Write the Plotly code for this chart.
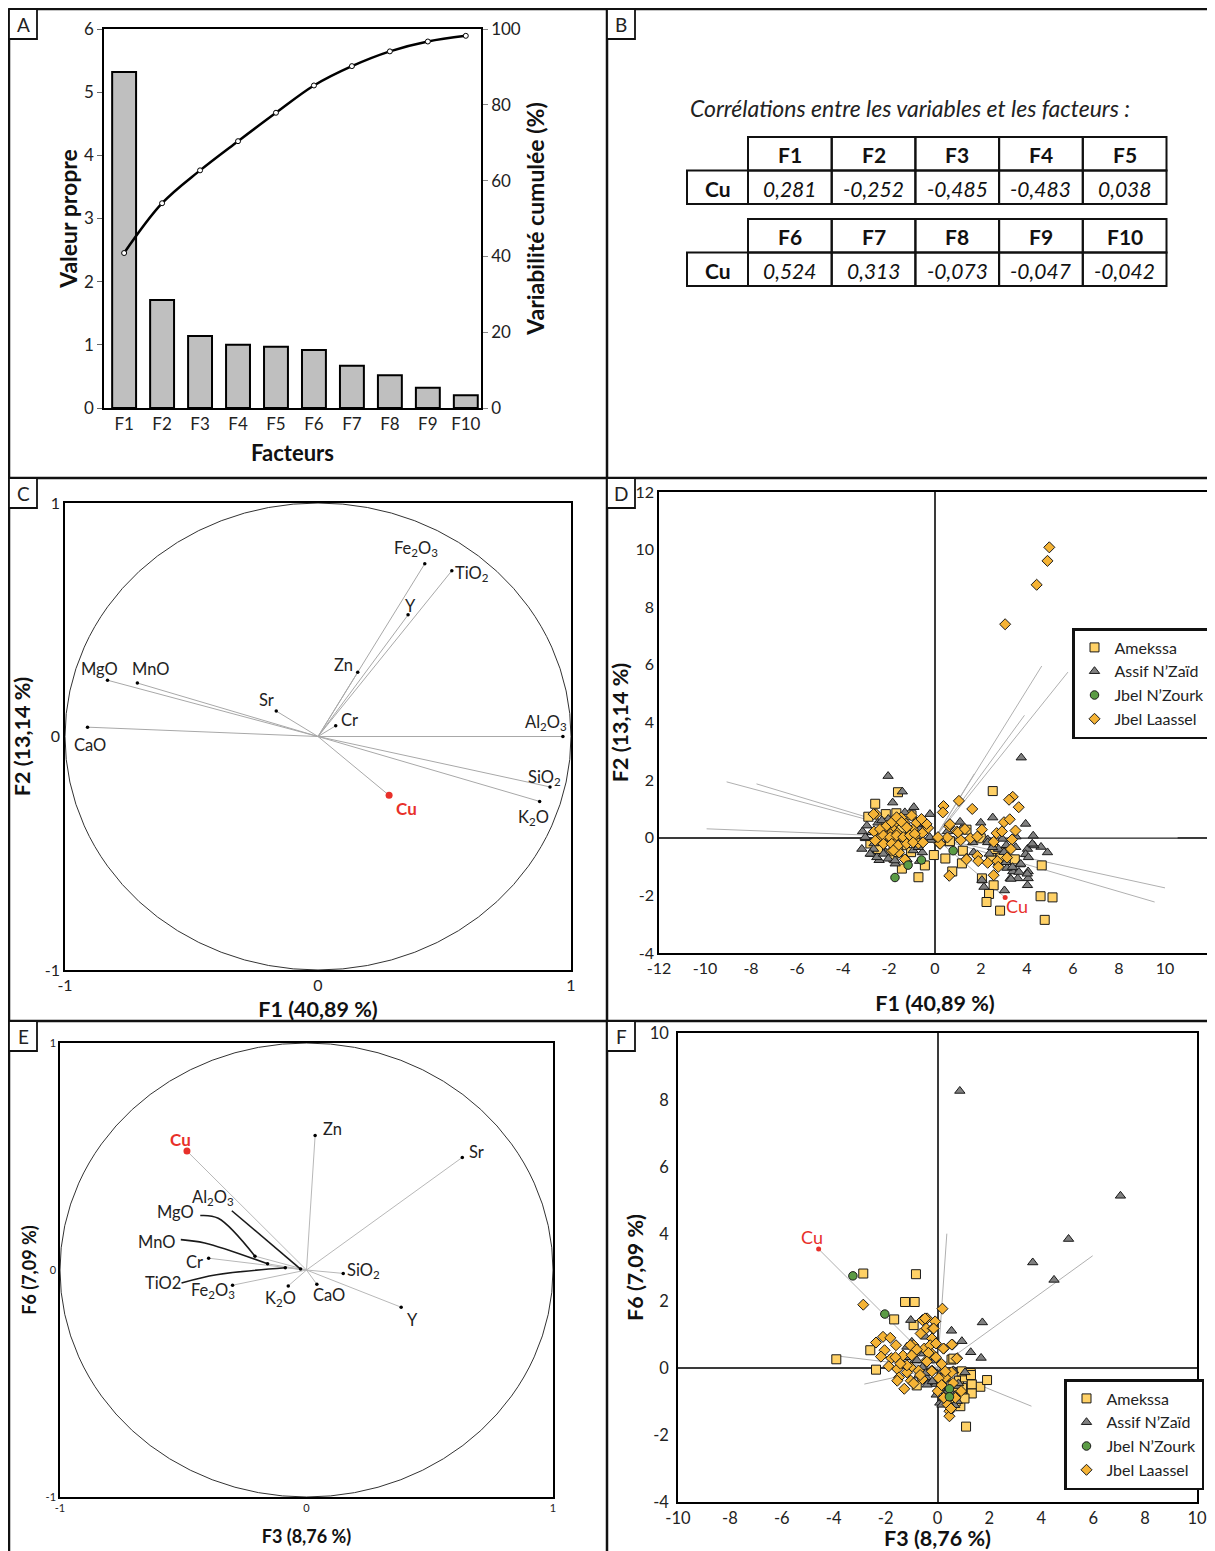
import plotly.graph_objects as go

# ---------------- Panel A data ----------------
factors = ["F1", "F2", "F3", "F4", "F5", "F6", "F7", "F8", "F9", "F10"]
eigenvalues = [5.32, 1.71, 1.14, 1.00, 0.97, 0.92, 0.67, 0.52, 0.32, 0.20]
cumulative = [40.89, 54.03, 62.7, 70.4, 77.9, 85.1, 90.2, 94.1, 96.7, 98.2]

# ---------------- Panel B data ----------------
table_cols_1 = ["F1", "F2", "F3", "F4", "F5"]
table_vals_1 = ["0,281", "-0,252", "-0,485", "-0,483", "0,038"]
table_cols_2 = ["F6", "F7", "F8", "F9", "F10"]
table_vals_2 = ["0,524", "0,313", "-0,073", "-0,047", "-0,042"]

# ---------------- Panel C data (F1/F2 correlation circle) ----------------
c_labels = ["Fe<sub>2</sub>O<sub>3</sub>", "TiO<sub>2</sub>", "Y", "Zn", "Cr", "Sr", "MgO", "MnO",
            "CaO", "Al<sub>2</sub>O<sub>3</sub>", "SiO<sub>2</sub>", "K<sub>2</sub>O"]
c_f1 = [0.422, 0.529, 0.356, 0.157, 0.070, -0.165, -0.832, -0.714, -0.911, 0.968, 0.917, 0.876]
c_f2 = [0.740, 0.710, 0.521, 0.275, 0.046, 0.109, 0.241, 0.229, 0.040, 0.000, -0.216, -0.278]
c_lab_x = [0.387, 0.610, 0.367, 0.101, 0.125, -0.202, -0.862, -0.664, -0.902, 0.902, 0.894, 0.853]
c_lab_y = [0.804, 0.699, 0.558, 0.308, 0.071, 0.156, 0.290, 0.290, -0.035, 0.060, -0.175, -0.345]
cu_f1, cu_f2, cu_f3, cu_f6 = 0.281, -0.252, -0.485, 0.524

# ---------------- Panel D data (F1/F2 scores) ----------------
dA_x = [-1.61, -2.60, -2.90, -2.14, -1.68, -1.02, -0.67, -1.81, -1.44, -0.72, -0.44, -0.05, 0.45, 0.75, 1.21,
        1.17, 0.62, 1.37, 1.99, 2.51, 2.43, 2.55, 2.35, 2.24, 2.83, 3.02, 3.47, 4.64, 4.59, 5.11, 4.77, 2.04,
        2.55, 2.88, -2.81, -2.48, -1.98, -1.47, -1.31, -2.48, -2.14, -1.60, -1.04, 0.65]
dA_y = [1.58, 1.18, 0.73, 0.82, 0.85, 0.78, 0.46, -0.69, -1.07, -1.37, -0.96, -0.60, -0.72, -1.17, -0.45,
        -0.89, -0.12, 0.28, -0.02, 1.62, -0.69, -1.65, -1.95, -2.23, -2.53, -0.51, -0.75, -0.96, -2.03, -2.07,
        -2.85, -1.41, -0.39, -0.69, -0.20, 0.16, -0.08, 0.28, -0.26, -0.39, 0.52, -0.50, -0.50, -0.12]
dB_x = [-2.04, -1.42, -1.84, -0.92, -0.22, -3.15, -3.02, -3.18, -2.76, -2.43, -1.73, -1.22, -0.67, -0.17, 1.09,
        1.99, 2.51, 3.75, 3.94, 4.27, 4.22, 4.61, 4.89, 4.02, 3.94, 4.05, 4.05, 4.02, 3.69, 3.38, 3.27, 3.60,
        3.02, 2.76, 3.13, 2.04, 2.13, 2.38, 2.76, 3.10, 3.52, 1.37, 1.68, 2.29, -2.48, -2.31, -2.65, -1.64,
        -1.14, -0.80, -1.81, -2.14, -0.55, 0.54,
        -2.96, -2.74, -3.03, -2.67, -2.82, -2.53, -2.24, -2.03, -1.74, -0.95, -0.73, -0.66, -0.80, -2.03, -2.31,
        -1.31, -0.23, 1.64, 2.29, 2.93, 3.00, 3.51, 4.30, 4.06, 4.23, 3.08, 3.37, 3.73, 3.65, 4.01, 3.30, 2.50,
        2.36, 1.14]
dB_y = [2.14, 1.60, 1.22, 1.06, 0.82, 0.22, -0.02, -0.39, -0.57, -0.78, -0.90, -0.75, -0.81, -0.08, 0.55,
        0.52, 0.70, 2.78, 0.48, 0.07, -0.23, -0.32, -0.51, -0.39, -0.57, -1.17, -1.41, -1.65, -0.93, -1.17,
        -1.41, -1.41, -1.83, -0.87, -1.05, -1.47, -1.71, -0.14, -0.39, -0.26, 0.04, -0.69, -0.51, -0.06, 0.52,
        -0.08, -0.20, -0.20, 0.16, 0.40, 0.04, -0.51, -0.51, 0.22,
        0.42, 0.19, 0.02, -0.39, -0.56, -0.68, -0.56, -0.73, -0.79, -0.44, -0.33, 0.30, 0.48, 0.65, 0.60,
        0.88, 0.02, -0.16, -0.16, -0.04, -0.50, -0.33, -0.27, -0.68, -0.21, -0.85, -1.02, -0.91, -1.19, -1.25,
        -1.43, -0.33, -0.56, 0.30]
dC_x = [-1.74, -1.17, -0.59, 0.79]
dC_y = [-1.38, -0.95, -0.77, -0.45]
dD_x = [4.97, 4.89, 4.42, 3.05, 1.04, 0.37, 0.34, 1.62, 3.38, 3.22, 3.64, 3.00, 3.25, 3.50, 2.68, 2.91, 3.35,
        3.30, 2.71, 2.75, 1.84, 1.88, 1.37, 1.54, 0.95, 1.12, 0.54, 0.62, 0.62, -0.47, -0.30, -0.80, -0.97,
        -1.31, -1.47, -1.73, -1.81, -1.98, -2.14, -2.31, -2.56, -2.48, -2.23, -1.89, -1.56, -1.31, -1.14,
        -0.89, -0.72, -1.47, -1.73, -2.06, -2.65, -1.64, -1.22, -0.55, 0.12, 0.20, 2.04, 2.55, 3.13, 1.84,
        2.29, 0.65, 1.00, 1.30, 0.22, 2.55,
        -2.39, -2.10, -1.88, -1.67, -1.45, -1.23, -1.02, -2.24, -1.95, -1.67, -1.38, -1.09, -0.88, -2.60, -2.24,
        -1.88, -1.60, -1.23, -1.81, -0.95, -0.52, -0.37, 0.13, -0.59, -2.67]
dD_y = [10.08, 9.61, 8.78, 7.41, 1.28, 1.10, 0.88, 1.00, 1.42, 1.32, 1.06, 0.54, 0.64, 0.25, 0.16, 0.22,
        -0.06, -0.39, -0.81, -1.01, -0.63, -0.81, -0.75, -0.02, 0.22, -0.08, 0.01, -1.32, 0.40, 0.52, 0.34,
        0.52, 0.28, 0.52, 0.70, 0.52, 0.28, 0.16, 0.04, 0.28, 0.82, -0.08, -0.20, -0.45, -0.51, -0.75, -0.08,
        0.04, -0.20, 0.04, -0.20, 0.40, 0.22, 0.16, 0.37, 0.16, -0.02, -0.20, 0.28, -0.14, -0.69, 0.04, -0.87,
        0.47, 0.19, 0.30, -0.21, -1.30,
        0.30, 0.42, 0.54, 0.71, 0.54, 0.36, 0.77, 0.08, 0.02, 0.08, 0.02, 0.08, 0.13, -0.10, -0.21,
        -0.21, -0.27, -0.21, -0.44, -0.16, -0.16, 0.48, 0.02, 0.65, 0.82]
# variable vectors drawn in panel D (same order as c_labels)
d_vec_x = [4.64, 5.78, 3.89, 1.71, 0.76, -1.80, -9.06, -7.76, -9.93, 10.55, 10.00, 9.55]
d_vec_y = [5.96, 5.75, 4.25, 2.22, 0.37, 0.88, 1.94, 1.87, 0.31, 0.00, -1.74, -2.23]
d_cu = [3.05, -2.07]

# ---------------- Panel E data (F3/F6 correlation circle) ----------------
e_labels = ["Zn", "Sr", "Al<sub>2</sub>O<sub>3</sub>", "MgO", "MnO", "Cr", "TiO2",
            "Fe<sub>2</sub>O<sub>3</sub>", "K<sub>2</sub>O", "CaO", "SiO<sub>2</sub>", "Y"]
e_f3 = [0.035, 0.632, -0.024, -0.209, -0.158, -0.397, -0.086, -0.300, -0.074, 0.042, 0.149, 0.384]
e_f6 = [0.593, 0.496, 0.004, 0.061, 0.027, 0.052, 0.010, -0.067, -0.070, -0.063, -0.015, -0.164]
e_lab_x = [0.105, 0.690, -0.380, -0.530, -0.609, -0.455, -0.582, -0.381, -0.104, 0.093, 0.232, 0.431]
e_lab_y = [0.620, 0.519, 0.320, 0.255, 0.124, 0.037, -0.058, -0.092, -0.125, -0.110, -0.003, -0.219]
# label leader lines (Al2O3, MgO, MnO, TiO2)
e_lead_x = [[-0.303, -0.024], [-0.431, -0.358, -0.209], [-0.510, -0.413, -0.158], [-0.507, -0.365, -0.086]]
e_lead_y = [[0.261, 0.004], [0.240, 0.228, 0.061], [0.134, 0.119, 0.027], [-0.057, -0.021, 0.010]]

# ---------------- Panel F data (F3/F6 scores) ----------------
fA_x = [-3.90, -2.86, -2.59, -2.37, -1.67, -1.25, -0.88, -0.83, -0.92, 0.54, 1.28, 1.31, 1.65, 1.91, 1.10,
        0.88, 1.01, 1.28, -0.80, 0.61, 0.83, 1.06, 0.70, 0.95, 0.61, 1.32, 1.29, 1.32, 1.04, 0.93]
fA_y = [0.26, 2.82, 0.53, -0.05, 1.45, 1.97, 1.97, 2.80, 1.28, 0.25, -0.15, -0.48, -0.56, -0.36, -1.75,
        -1.14, -0.84, -0.74, -0.52, -0.64, -0.38, -0.28, -1.00, -0.60, 0.28, -0.49, -0.21, -0.76, -0.91, -0.10]
fB_x = [0.86, 7.05, 5.05, 3.67, 4.49, 1.73, 0.54, 0.94, 1.28, 1.68, -1.03, -0.46, -1.18, -1.10, -1.33, -0.73,
        -0.28, 0.09, 0.31, 0.76, 1.06, 0.61, 0.16, -0.13, -0.58, -0.88, 0.24, 0.76, 0.46, -0.06, -0.43, 0.10,
        0.35, 0.55, -0.40, 0.17, 0.36, 0.61, 0.81, 0.68, 0.23, 0.10, 0.66, 0.17, -0.20, -0.45, -0.05, -0.99,
        -0.79, -0.54]
fB_y = [8.27, 5.14, 3.85, 3.15, 2.63, 1.36, 1.11, 0.80, 0.47, 0.30, 1.43, 0.93, 0.63, 0.32, 0.12, -0.23,
        -0.43, -1.04, -0.69, -0.99, -0.13, -0.08, -0.28, 0.22, 0.02, 0.22, -0.54, -0.54, -0.89, -0.48, -0.28,
        -0.70, -0.35, -0.75, -0.50, -0.10, -0.31, -0.07, -0.46, -0.81, -0.91, -0.61, -1.11, -1.10, -0.40,
        -0.15, -0.80, 0.78, 0.23, 0.43]
fC_x = [-3.26, -2.03, 0.46, 0.46]
fC_y = [2.75, 1.61, -0.62, -0.86]
fD_x = [-2.86, 0.19, -2.37, -2.10, -1.82, -1.60, -2.04, -2.18, -1.78, -1.88, -1.55, -1.48, -1.55, -1.28, -1.03,
        -0.58, -0.40, -0.43, -0.18, -0.65, -0.21, -0.92, -0.88, -0.51, -0.28, -0.06, -0.21, 0.24, 0.57, 0.76,
        0.16, -0.06, -0.43, -0.73, -1.03, -1.18, -0.58, -0.21, 0.16, 0.31, 0.39, 0.46, 0.46, 0.69, 0.91, 0.54,
        0.01, 0.24, -1.33, -1.62, 0.05, 0.30, -0.35, 0.60, 0.55, 0.23, 0.74, 0.52, 0.16, -0.22, -0.41, -0.09,
        -0.15, -0.48, -1.18, -0.99, -1.05, -0.67, -0.92, -1.43, -0.80]
fD_y = [1.89, 1.77, 0.76, 0.93, 0.90, 0.68, 0.53, 0.34, 0.29, 0.05, -0.03, -0.28, -0.38, -0.62, -0.38, 1.43,
        1.48, 1.18, 1.18, 1.03, 0.88, 0.68, 0.47, 0.58, 0.68, 0.73, 0.42, 0.58, 0.70, 0.29, 0.12, 0.32, 0.22,
        -0.08, 0.02, -0.13, -0.33, -0.08, -0.48, -0.28, -1.09, -1.29, -1.44, -0.89, -0.69, -0.13, -0.69, -0.89,
        0.37, 0.32, -0.30, -0.10, 0.45, -0.45, 0.70, 0.58, 0.28, -1.21, -0.51, -0.10, 0.19, 1.39, 1.18, 1.48,
        0.08, 0.38, 0.68, -0.21, -0.46, 0.13, 0.55]
# variable vectors drawn in panel F (same order as e_labels)
f_vec_x = [0.36, 5.98, -0.23, -1.97, -1.49, -3.77, -0.81, -2.82, -0.70, 0.40, 1.41, 3.62]
f_vec_y = [4.01, 3.35, 0.03, 0.41, 0.18, 0.35, 0.07, -0.48, -0.47, -0.43, -0.10, -1.14]
f_cu = [-4.58, 3.55]

group_names = ["Amekssa", "Assif N’Zaïd", "Jbel N’Zourk", "Jbel Laassel"]

# ---------------- helpers / styles ----------------
# page pixels -> paper coordinates (the page body adds an 8 px margin)
W, H = 1207, 1543
def px(x): return (x - 8) / W
def py(y): return 1 - (y - 8) / H

FONT = "Lato"
RED = "#E8302A"
GRAY_LINE = "#B0B0B0"
SQ_COL = "#FFD166"
DI_COL = "#F5B335"
TRI_COL = "#808080"
GR_COL = "#5B9B45"

def vec_lines(xs, ys):
    lx, ly = [], []
    for x, y in zip(xs, ys):
        lx += [0, x, None]
        ly += [0, y, None]
    return lx, ly

fig = go.Figure()

# ---------------- Panel A ----------------
fig.add_trace(go.Bar(x=factors, y=eigenvalues, width=0.63, xaxis="x", yaxis="y", showlegend=False,
                     marker=dict(color="#BFBFBF", line=dict(color="black", width=2))))
fig.add_trace(go.Scatter(x=factors, y=cumulative, xaxis="x", yaxis="y2", mode="lines+markers", showlegend=False,
                         line=dict(color="black", width=2.5, shape="spline"),
                         marker=dict(symbol="circle", size=5, color="white", line=dict(color="black", width=1))))

# ---------------- Panel C ----------------
lx, ly = vec_lines(c_f1 + [cu_f1], c_f2 + [cu_f2])
fig.add_trace(go.Scatter(x=lx, y=ly, xaxis="x3", yaxis="y3", mode="lines", showlegend=False,
                         line=dict(color="#A8A8A8", width=1)))
fig.add_trace(go.Scatter(x=c_f1, y=c_f2, xaxis="x3", yaxis="y3", mode="markers", showlegend=False,
                         marker=dict(color="black", size=3.5)))
fig.add_trace(go.Scatter(x=[cu_f1], y=[cu_f2], xaxis="x3", yaxis="y3", mode="markers", showlegend=False,
                         marker=dict(color=RED, size=7)))

# ---------------- Panel D ----------------
lx, ly = vec_lines(d_vec_x + [d_cu[0]], d_vec_y + [d_cu[1]])
fig.add_trace(go.Scatter(x=lx, y=ly, xaxis="x4", yaxis="y4", mode="lines", showlegend=False,
                         line=dict(color=GRAY_LINE, width=1)))

def groups(legend, ax, ay, data):
    # (symbol, colour, size, legend rank, name index)
    specs = [("square", SQ_COL, 9, 1, 0), ("triangle-up", TRI_COL, 9, 2, 1),
             ("diamond", DI_COL, 8.5, 4, 3), ("circle", GR_COL, 8.5, 3, 2)]
    for k in [0, 1, 2, 3]:
        sym, col, size, rank, ni = specs[k]
        xs, ys = data[k]
        fig.add_trace(go.Scatter(x=xs, y=ys, xaxis=ax, yaxis=ay, mode="markers", name=group_names[ni],
                                 legend=legend, legendrank=rank,
                                 marker=dict(symbol=sym, color=col, size=size,
                                             line=dict(color="#1a1a1a", width=1))))

groups("legend", "x4", "y4", [(dA_x, dA_y), (dB_x, dB_y), (dD_x, dD_y), (dC_x, dC_y)])
fig.add_trace(go.Scatter(x=[d_cu[0]], y=[d_cu[1]], xaxis="x4", yaxis="y4", mode="markers", showlegend=False,
                         marker=dict(color=RED, size=5)))

# ---------------- Panel E ----------------
lx, ly = vec_lines(e_f3 + [cu_f3], e_f6 + [cu_f6])
fig.add_trace(go.Scatter(x=lx, y=ly, xaxis="x5", yaxis="y5", mode="lines", showlegend=False,
                         line=dict(color="#B8B8B8", width=1)))
for lxs, lys in zip(e_lead_x, e_lead_y):
    fig.add_trace(go.Scatter(x=lxs, y=lys, xaxis="x5", yaxis="y5", mode="lines", showlegend=False,
                             line=dict(color="#1a1a1a", width=1.6, shape="spline")))
fig.add_trace(go.Scatter(x=e_f3, y=e_f6, xaxis="x5", yaxis="y5", mode="markers", showlegend=False,
                         marker=dict(color="black", size=3.5)))
fig.add_trace(go.Scatter(x=[cu_f3], y=[cu_f6], xaxis="x5", yaxis="y5", mode="markers", showlegend=False,
                         marker=dict(color=RED, size=7)))

# ---------------- Panel F ----------------
lx, ly = vec_lines(f_vec_x + [f_cu[0]], f_vec_y + [f_cu[1]])
fig.add_trace(go.Scatter(x=lx, y=ly, xaxis="x6", yaxis="y6", mode="lines", showlegend=False,
                         line=dict(color=GRAY_LINE, width=1)))
groups("legend2", "x6", "y6", [(fA_x, fA_y), (fB_x, fB_y), (fD_x, fD_y), (fC_x, fC_y)])
fig.add_trace(go.Scatter(x=[f_cu[0]], y=[f_cu[1]], xaxis="x6", yaxis="y6", mode="markers", showlegend=False,
                         marker=dict(color=RED, size=5)))

# ---------------- axes ----------------
def tf(size):
    return dict(family=FONT, size=size, color="#222222")

def ticks(vals):
    # hyphen-minus labels like the original figure
    return dict(tickvals=vals, ticktext=[str(v) for v in vals])

def ax(**kw):
    base = dict(showgrid=False, zeroline=False, showline=True, linecolor="black", linewidth=1.5,
                tickfont=tf(16), ticks="", automargin=False, fixedrange=True)
    base.update(kw)
    return base

def ttl(text, size=22, standoff=8):
    return dict(text="<b>" + text + "</b>", font=dict(family=FONT, size=size, color="#111111"), standoff=standoff)

zl = dict(zeroline=True, zerolinecolor="#3a3a3a", zerolinewidth=1.5)
layout_axes = dict(
    xaxis=ax(domain=[px(104), px(481)], anchor="y", range=[-0.53, 9.4], mirror=True, tickfont=tf(17),
             title=ttl("Facteurs", size=22, standoff=12)),
    yaxis=ax(domain=[py(408), py(29)], anchor="x", range=[0, 6], dtick=1, ticks="outside", ticklen=5,
             tickfont=tf(17), tickcolor="#666666", title=ttl("Valeur propre", size=23, standoff=0)),
    yaxis2=ax(domain=[py(408), py(29)], anchor="x", overlaying="y", side="right", range=[0, 100], dtick=20,
              ticks="outside", ticklen=5, tickfont=tf(17), tickcolor="#888888",
              title=ttl("Variabilité cumulée (%)", size=23, standoff=8)),
    xaxis3=ax(domain=[px(65), px(571)], anchor="y3", range=[-1, 1], mirror=True, **ticks([-1, 0, 1]),
              title=ttl("F1 (40,89 %)", size=21.5, standoff=9)),
    yaxis3=ax(domain=[py(970), py(503)], anchor="x3", range=[-1, 1], mirror=True, **ticks([-1, 0, 1]),
              title=ttl("F2 (13,14 %)", size=21.5, standoff=8)),
    xaxis4=ax(domain=[px(659), px(1211)], anchor="y4", range=[-12, 12], **ticks(list(range(-12, 11, 2))),
              mirror=True, tickfont=tf(16), title=ttl("F1 (40,89 %)", size=21.5, standoff=20), **zl),
    yaxis4=ax(domain=[py(953), py(492)], anchor="x4", range=[-4, 12], **ticks(list(range(-4, 13, 2))),
              mirror=True, tickfont=tf(16), title=ttl("F2 (13,14 %)", size=21.5, standoff=1), **zl),
    xaxis5=ax(domain=[px(60), px(553)], anchor="y5", range=[-1, 1], mirror=True, **ticks([-1, 0, 1]),
              tickfont=tf(11), title=ttl("F3 (8,76 %)", size=18, standoff=17)),
    yaxis5=ax(domain=[py(1497), py(1043)], anchor="x5", range=[-1, 1], mirror=True, **ticks([-1, 0, 1]),
              tickfont=tf(11), title=ttl("F6 (7,09 %)", size=18, standoff=4)),
    xaxis6=ax(domain=[px(678), px(1197)], anchor="y6", range=[-10, 10], **ticks(list(range(-10, 11, 2))),
              mirror=True, tickfont=tf(16.5), title=ttl("F3 (8,76 %)", size=21.5, standoff=4), **zl),
    yaxis6=ax(domain=[py(1502), py(1033)], anchor="x6", range=[-4, 10], **ticks(list(range(-4, 11, 2))),
              mirror=True, tickfont=tf(16.5), ticklabelstandoff=4,
              title=ttl("F6 (7,09 %)", size=21.5, standoff=0), **zl),
)

# ---------------- shapes ----------------
shapes = []
def pline(x0, y0, x1, y1, w=2.5):
    shapes.append(dict(type="line", xref="paper", yref="paper", x0=px(x0), y0=py(y0), x1=px(x1), y1=py(y1),
                       line=dict(color="#111111", width=w)))
pline(9, 9, 1213, 9)
pline(9, 9, 9, 1560)
pline(1213, 9, 1213, 1560)
pline(607, 9, 607, 1560)
pline(9, 478, 1213, 478)
pline(9, 1021, 1213, 1021)

annotations = []
for lab, (bx, by) in zip("ABCDEF", [(9, 9), (607, 9), (9, 478), (607, 478), (9, 1021), (607, 1021)]):
    shapes.append(dict(type="rect", xref="paper", yref="paper", x0=px(bx), y0=py(by), x1=px(bx + 28),
                       y1=py(by + 30), line=dict(color="#111111", width=1.8), fillcolor="white"))
    annotations.append(dict(xref="paper", yref="paper", x=px(bx + 14), y=py(by + 15), text=lab, showarrow=False,
                            xanchor="center", yanchor="middle", font=dict(family=FONT, size=19, color="#222222")))

# correlation circles
shapes.append(dict(type="circle", xref="x3", yref="y3", x0=-1, y0=-1, x1=1, y1=1,
                   line=dict(color="#333333", width=1)))
shapes.append(dict(type="circle", xref="x5", yref="y5", x0=-1, y0=-1, x1=1, y1=1,
                   line=dict(color="#333333", width=1)))

# ---------------- Panel B table ----------------
annotations.append(dict(xref="paper", yref="paper", x=px(910), y=py(108),
                        text="<i>Corrélations entre les variables et les facteurs :</i>", showarrow=False,
                        xanchor="center", yanchor="middle", font=dict(family=FONT, size=23, color="#222222")))
tbl_left, first_w, col_w, row_h = 687, 61, 83.7, 33.5
for top, cols, vals in [(137, table_cols_1, table_vals_1), (219, table_cols_2, table_vals_2)]:
    cells = [(tbl_left, top + row_h, tbl_left + first_w, top + 2 * row_h, "<b>Cu</b>")]
    for j, (c, v) in enumerate(zip(cols, vals)):
        x0 = tbl_left + first_w + j * col_w
        cells.append((x0, top, x0 + col_w, top + row_h, "<b>" + c + "</b>"))
        cells.append((x0, top + row_h, x0 + col_w, top + 2 * row_h, "<i>" + v + "</i>"))
    for x0, y0, x1, y1, txt in cells:
        shapes.append(dict(type="rect", xref="paper", yref="paper", x0=px(x0), y0=py(y0), x1=px(x1), y1=py(y1),
                           line=dict(color="#111111", width=2)))
        annotations.append(dict(xref="paper", yref="paper", x=px((x0 + x1) / 2), y=py((y0 + y1) / 2 + 1),
                                text=txt, showarrow=False, xanchor="center", yanchor="middle",
                                font=dict(family=FONT, size=21, color="#111111")))

# ---------------- labels ----------------
lab_font = dict(family=FONT, size=16.5, color="#222222")
for t, x, y in zip(c_labels, c_lab_x, c_lab_y):
    annotations.append(dict(xref="x3", yref="y3", x=x, y=y, text=t, showarrow=False, font=lab_font))
annotations.append(dict(xref="x3", yref="y3", x=0.35, y=-0.31, text="<b>Cu</b>", showarrow=False,
                        font=dict(family=FONT, size=17, color=RED)))
for t, x, y in zip(e_labels, e_lab_x, e_lab_y):
    annotations.append(dict(xref="x5", yref="y5", x=x, y=y, text=t, showarrow=False, font=lab_font))
annotations.append(dict(xref="x5", yref="y5", x=-0.51, y=0.575, text="<b>Cu</b>", showarrow=False,
                        font=dict(family=FONT, size=17, color=RED)))
annotations.append(dict(xref="x4", yref="y4", x=3.55, y=-2.37, text="Cu", showarrow=False,
                        font=dict(family=FONT, size=18, color=RED)))
annotations.append(dict(xref="x6", yref="y6", x=-4.83, y=3.9, text="Cu", showarrow=False,
                        font=dict(family=FONT, size=18, color=RED)))

legend_style = dict(xanchor="left", yanchor="top", bgcolor="white", bordercolor="#111111", borderwidth=2.5,
                    font=dict(family=FONT, size=16, color="#222222"), itemwidth=30, tracegroupgap=0,
                    itemsizing="trace", itemclick=False, itemdoubleclick=False)

fig.update_layout(
    width=W, height=H, margin=dict(l=0, r=0, t=0, b=0), autosize=False,
    paper_bgcolor="white", plot_bgcolor="white",
    font=dict(family=FONT, color="#222222"),
    legend=dict(x=px(1072), y=py(628), **legend_style),
    legend2=dict(x=px(1064), y=py(1379), **legend_style),
    shapes=shapes, annotations=annotations,
    **layout_axes,
)

fig.write_html("out.html")
